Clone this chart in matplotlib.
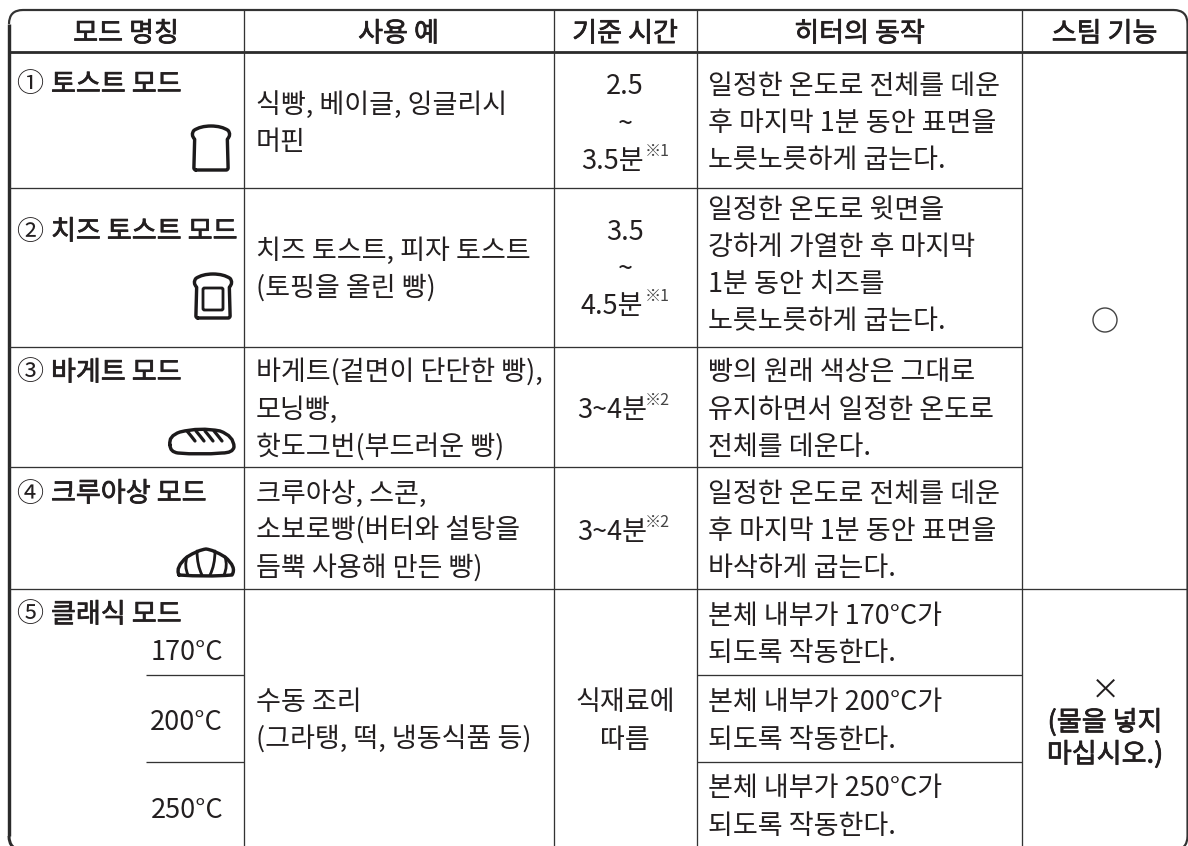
#!/usr/bin/env python3
"""Korean toaster mode table, drawn in pixel coordinates."""

import matplotlib

matplotlib.use("Agg")
import matplotlib.patheffects as pe
import matplotlib.pyplot as plt
from matplotlib.patches import Circle, FancyBboxPatch, PathPatch
from matplotlib.path import Path

plt.rcParams["font.family"] = ["Noto Sans CJK KR", "DejaVu Sans"]

# Table content
HEADERS = ["모드 명칭", "사용 예", "기준 시간", "히터의 동작", "스팀 기능"]
MODE_NUMBERS = ["①", "②", "③", "④", "⑤"]
MODE_NAMES = ["토스트 모드", "치즈 토스트 모드", "바게트 모드", "크루아상 모드", "클래식 모드"]
TEMPERATURES = ["170°C", "200°C", "250°C"]
USAGE = [
    ["식빵, 베이글, 잉글리시", "머핀"],
    ["치즈 토스트, 피자 토스트", "(토핑을 올린 빵)"],
    ["바게트(겉면이 단단한 빵),", "모닝빵,", "핫도그번(부드러운 빵)"],
    ["크루아상, 스콘,", "소보로빵(버터와 설탕을", "듬뿍 사용해 만든 빵)"],
    ["수동 조리", "(그라탱, 떡, 냉동식품 등)"],
]
TIMES = [
    ["2.5", "~", "3.5분"],
    ["3.5", "~", "4.5분"],
    ["3~4분"],
    ["3~4분"],
    ["식재료에", "따름"],
]
TIME_NOTES = ["※1", "※1", "※2", "※2", ""]
HEATER = [
    ["일정한 온도로 전체를 데운", "후 마지막 1분 동안 표면을", "노릇노릇하게 굽는다."],
    ["일정한 온도로 윗면을", "강하게 가열한 후 마지막", "1분 동안 치즈를", "노릇노릇하게 굽는다."],
    ["빵의 원래 색상은 그대로", "유지하면서 일정한 온도로", "전체를 데운다."],
    ["일정한 온도로 전체를 데운", "후 마지막 1분 동안 표면을", "바삭하게 굽는다."],
    ["본체 내부가 170°C가", "되도록 작동한다."],
    ["본체 내부가 200°C가", "되도록 작동한다."],
    ["본체 내부가 250°C가", "되도록 작동한다."],
]
STEAM_NO = ["×", "(물을 넣지", "마십시오.)"]

# Layout, in reference pixels
COL_X = [243.5, 553.5, 697, 1022]
ROW_Y = [52, 187.7, 346.7, 467.3, 588.7]
SUB_Y = [675.3, 762]
LINE_STEP = 37.3
INK = "#231f20"
BODY = 19.5
MODE_Y = [82, 229, 370, 491, 612]
USAGE_Y = [102, 248, 370, 491, 700]
TIME_Y = [84, 229, 407, 529, 700]
HEATER_Y = [83, 207, 370, 491, 613, 700, 786]
TEMP_Y = [649, 720, 807]
DY = 10.5  # centre of a line to its baseline
MEDIUM = [pe.withStroke(linewidth=0.55, foreground=INK)]


def px(width):
    return width * 72 / 100


def rule(ax, x0, x1, y0, y1, width=1.3, color="#333333"):
    ax.plot([x0, x1], [y0, y1], color=color, lw=px(width), solid_capstyle="butt", zorder=2)


def put(ax, x, y, text, ha="left", size=BODY, medium=False, color=INK):
    t = ax.text(x, y + DY, text, ha=ha, va="baseline", fontsize=size, color=color)
    if medium:
        t.set_path_effects(MEDIUM)
    return t


def stroke_path(ax, verts, codes, width=3.4):
    ax.add_patch(PathPatch(Path(verts, codes), fc="none", ec="#1c1a1b", lw=px(width),
                           capstyle="round", joinstyle="round", zorder=3))


M, L, C3 = Path.MOVETO, Path.LINETO, Path.CURVE3


def toast_outline(x0, x1, y0, y1):
    w, h = x1 - x0, y1 - y0
    verts = [
        (x0 + 0.10 * w, y1), (x0 + 0.05 * w, y1), (x0 + 0.05 * w, y1 - 0.05 * h),
        (x0 + 0.07 * w, y0 + 0.30 * h), (x0 - 0.04 * w, y0 + 0.20 * h), (x0 + 0.05 * w, y0 + 0.10 * h),
        (x0 + 0.22 * w, y0), (x0 + 0.50 * w, y0), (x0 + 0.78 * w, y0), (x0 + 0.95 * w, y0 + 0.10 * h),
        (x1 + 0.04 * w, y0 + 0.20 * h), (x1 - 0.07 * w, y0 + 0.30 * h),
        (x1 - 0.05 * w, y1 - 0.05 * h), (x1 - 0.05 * w, y1), (x1 - 0.10 * w, y1),
        (x0 + 0.10 * w, y1),
    ]
    codes = [M, C3, C3, L, C3, C3, C3, C3, C3, C3, C3, C3, L, C3, C3, L]
    return verts, codes


def draw_icons(ax):
    # plain toast
    verts, codes = toast_outline(192, 230, 126, 170)
    stroke_path(ax, verts, codes)
    # toast with cheese square
    verts, codes = toast_outline(194, 232, 274, 318)
    stroke_path(ax, verts, codes)
    ax.add_patch(FancyBboxPatch((203, 288), 20, 22, boxstyle="round,pad=0,rounding_size=1.5",
                                fc="none", ec="#1c1a1b", lw=px(2.8), zorder=3))
    # baguette
    stroke_path(ax, [(170, 445), (168, 436), (180, 432), (200, 427), (220, 431), (234, 436),
                     (234, 447), (233, 453), (222, 453), (200, 455), (178, 453), (170, 452), (170, 445)],
                [M, C3, C3, C3, C3, C3, C3, C3, C3, C3, C3, C3, C3])
    for x in (187, 196, 205, 214):
        stroke_path(ax, [(x, 431), (x + 5, 437), (x + 8, 441)], [M, C3, C3], width=3.2)
    # croissant
    stroke_path(ax, [(179, 575), (175, 567), (187, 557), (198, 550), (206, 549), (214, 550),
                     (225, 557), (237, 567), (232, 575), (206, 577), (179, 575)],
                [M, C3, C3, C3, C3, C3, C3, C3, C3, C3, C3])
    stroke_path(ax, [(197, 551), (197, 565), (202, 575)], [M, C3, C3], width=2.8)
    stroke_path(ax, [(215, 551), (215, 565), (210, 575)], [M, C3, C3], width=2.8)
    stroke_path(ax, [(187, 557), (184, 566), (188, 575)], [M, C3, C3], width=2.8)
    stroke_path(ax, [(225, 557), (228, 566), (224, 575)], [M, C3, C3], width=2.8)


def draw_frame(ax):
    r = 14
    left, right, top, bottom = 9, 1187.5, 10, 850
    ax.add_patch(PathPatch(
        Path([(left, top + r), (left, top), (left + r, top), (right - r, top), (right, top),
              (right, top + r), (right, bottom - r), (right, bottom), (right - r, bottom)],
             [M, C3, C3, L, C3, C3, L, C3, C3]),
        fc="none", ec="#333333", lw=px(2.2), zorder=2))
    rule(ax, left, left, top + r, bottom - r, width=3.4, color="#2b2b2b")
    ax.add_patch(PathPatch(
        Path([(left, bottom - r), (left, bottom), (left + r, bottom)], [M, C3, C3]),
        fc="none", ec="#2b2b2b", lw=px(3.0), zorder=2))
    rule(ax, left, right, 52, 52, width=2.8, color="#2b2b2b")


def main():
    fig = plt.figure(figsize=(11.88, 8.46), dpi=100, facecolor="white")
    ax = fig.add_axes([0, 0, 1, 1])
    ax.set_xlim(0, 1188)
    ax.set_ylim(846, 0)
    ax.axis("off")

    draw_frame(ax)

    # inner rules
    for x in COL_X:
        rule(ax, x, x, 10, 846)
    for y in ROW_Y[1:4]:
        rule(ax, 9, COL_X[3], y, y)
    rule(ax, 9, 1187, ROW_Y[4], ROW_Y[4])
    for y in SUB_Y:
        rule(ax, 146, COL_X[0], y, y)
        rule(ax, COL_X[2], COL_X[3], y, y)

    # header
    centres = [126, 398.5, 625, 859.5, 1104.5]
    for x, label in zip(centres, HEADERS):
        put(ax, x, 31, label, ha="center", medium=True)

    # first column
    for y, num, name in zip(MODE_Y, MODE_NUMBERS, MODE_NAMES):
        put(ax, 16, y, num)
        put(ax, 51, y, name, medium=True)
    for y, temp in zip(TEMP_Y, TEMPERATURES):
        put(ax, 223, y, temp, ha="right")
    draw_icons(ax)

    # usage
    for y, lines in zip(USAGE_Y, USAGE):
        for i, line in enumerate(lines):
            put(ax, 256, y + i * LINE_STEP, line)

    # standard time, the last line moves left when it carries a footnote mark
    for y, lines, note in zip(TIME_Y, TIMES, TIME_NOTES):
        for i, line in enumerate(lines):
            last_line = i == len(lines) - 1
            put(ax, 612 if note and last_line else 625, y + i * LINE_STEP, line, ha="center")
        if note:
            last = y + (len(lines) - 1) * LINE_STEP
            ax.text(645, last + DY - 13, note, ha="left", va="baseline", fontsize=11.5, color="#444444")

    # heater behaviour
    for y, lines in zip(HEATER_Y, HEATER):
        for i, line in enumerate(lines):
            put(ax, 708, y + i * LINE_STEP, line)

    # steam
    ax.add_patch(Circle((1105, 320), 12, fc="none", ec="#444444", lw=px(1.4), zorder=3))
    put(ax, 1105, 688, STEAM_NO[0], ha="center", size=21)
    for y, line in zip([720, 752], STEAM_NO[1:]):
        put(ax, 1105, y, line, ha="center", medium=True)

    fig.savefig("out.png", dpi=100, facecolor="white")


if __name__ == "__main__":
    main()
